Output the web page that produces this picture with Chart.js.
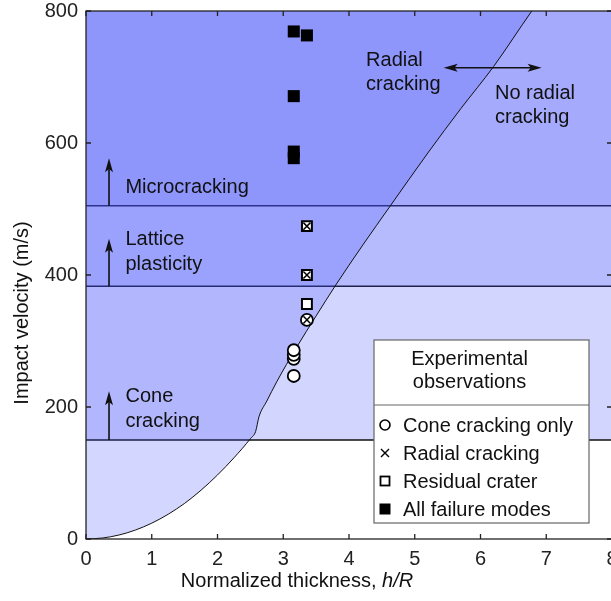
<!DOCTYPE html>
<html>
<head>
<meta charset="utf-8">
<script src="https://cdn.jsdelivr.net/npm/chart.js@4/dist/chart.umd.min.js"></script>
<style>
  html, body { margin: 0; padding: 0; overflow: hidden; background: #fff; width: 611px; height: 601px; }
  canvas { display: block; }
</style>
</head>
<body>
<canvas id="chart" width="640" height="601"></canvas>
<script>
// Boundary between radial cracking (above) and no radial cracking (below)
const boundaryH = [0, 0.25, 0.5, 0.75, 1, 1.25, 1.5, 1.75, 2, 2.25, 2.5, 2.58, 2.63, 2.75, 2.9, 3.2, 3.5, 3.8, 4.2, 4.63, 5.2, 5.7, 6.2, 6.78, 7.0];
const boundaryV = [0, 1.5, 6, 13.5, 24, 37.5, 54, 74, 97, 123, 152, 163, 185, 209, 238, 290, 338, 385, 444, 505, 585, 652, 716, 800, 830];

// Velocity thresholds for each damage mechanism
const thresholdV = [150, 383, 505];
const thresholdText = [["Cone", "cracking"], ["Lattice", "plasticity"], ["Microcracking"]];
const thresholdArrowTip = [224, 455, 577];
const thresholdTextBase = [207, 446, 524];

// Experimental observations (h/R, velocity)
const coneOnlyH = [3.16, 3.16, 3.16, 3.16];
const coneOnlyV = [247, 273, 279, 286];
const coneRadialH = [3.36];
const coneRadialV = [332];
const craterH = [3.36];
const craterV = [356];
const craterRadialH = [3.36, 3.36];
const craterRadialV = [400, 474];
const allModesH = [3.16, 3.36, 3.16, 3.16, 3.16];
const allModesV = [769, 763, 671, 587, 577];

const xTicks = [0, 1, 2, 3, 4, 5, 6, 7, 8];
const yTicks = [0, 200, 400, 600, 800];

const legendTitle = ["Experimental", "observations"];
const legendItems = ["Cone cracking only", "Radial cracking", "Residual crater", "All failure modes"];

const FONT = '"Liberation Sans", Arial, sans-serif';
const TINT = (a) => `rgba(70, 82, 250, ${a})`;
const pts = (xs, ys) => xs.map((x, i) => ({ x, y: ys[i] }));

const bandAlpha = [0.243, 0.2, 0.15];

const datasets = [
  { data: pts(coneOnlyH, coneOnlyV), showLine: false, pointStyle: 'circle', pointRadius: 6,
    pointBackgroundColor: '#fff', pointBorderColor: '#000', pointBorderWidth: 1.8, order: 1 },
  { data: pts(coneRadialH, coneRadialV), showLine: false, pointStyle: 'circle', pointRadius: 6,
    pointBackgroundColor: '#fff', pointBorderColor: '#000', pointBorderWidth: 1.8, order: 1 },
  { data: pts(coneRadialH, coneRadialV), showLine: false, pointStyle: 'crossRot', pointRadius: 5,
    pointBorderColor: '#000', pointBorderWidth: 1.5, order: 0 },
  { data: pts(craterH, craterV), showLine: false, pointStyle: 'rect', pointRadius: 7,
    pointBackgroundColor: '#fff', pointBorderColor: '#000', pointBorderWidth: 2, order: 1 },
  { data: pts(craterRadialH, craterRadialV), showLine: false, pointStyle: 'rect', pointRadius: 7,
    pointBackgroundColor: '#fff', pointBorderColor: '#000', pointBorderWidth: 2, order: 1 },
  { data: pts(craterRadialH, craterRadialV), showLine: false, pointStyle: 'crossRot', pointRadius: 5,
    pointBorderColor: '#000', pointBorderWidth: 1.5, order: 0 },
  { data: pts(allModesH, allModesV), showLine: false, pointStyle: 'rect', pointRadius: 8.5,
    pointBackgroundColor: '#000', pointBorderColor: '#000', pointBorderWidth: 0, order: 1 },
  { data: pts(boundaryH, boundaryV), showLine: true, fill: 'end', backgroundColor: TINT(0.235),
    borderColor: '#111', borderWidth: 1, pointRadius: 0, cubicInterpolationMode: 'monotone', order: 5 },
];
thresholdV.forEach((v, i) => {
  datasets.push({ data: [{ x: 0, y: v }, { x: 8, y: v }], showLine: true, fill: 'end',
    backgroundColor: TINT(bandAlpha[i]), borderColor: '#111', borderWidth: 1.4, pointRadius: 0, order: 6 });
});

function arrowHead(ctx, x, y, dx, dy) {
  // filled triangular head pointing along (dx, dy)
  const len = 14, half = 4;
  const px = -dy, py = dx;
  ctx.beginPath();
  ctx.moveTo(x, y);
  ctx.lineTo(x - dx * len + px * half, y - dy * len + py * half);
  ctx.lineTo(x - dx * len * 0.78, y - dy * len * 0.78);
  ctx.lineTo(x - dx * len - px * half, y - dy * len - py * half);
  ctx.closePath();
  ctx.fill();
}

const decorations = {
  id: 'decorations',
  afterDatasetsDraw(chart) {
    const { ctx, chartArea: a, scales: { x, y } } = chart;
    ctx.save();
    // frame with inward ticks on all four sides
    ctx.strokeStyle = '#222';
    ctx.lineWidth = 1.3;
    ctx.strokeRect(a.left, a.top, a.right - a.left, a.bottom - a.top);
    ctx.beginPath();
    xTicks.forEach(t => {
      const px = x.getPixelForValue(t);
      ctx.moveTo(px, a.bottom); ctx.lineTo(px, a.bottom - 5);
      ctx.moveTo(px, a.top); ctx.lineTo(px, a.top + 5);
    });
    yTicks.forEach(t => {
      const py = y.getPixelForValue(t);
      ctx.moveTo(a.left, py); ctx.lineTo(a.left + 5, py);
      ctx.moveTo(a.right, py); ctx.lineTo(a.right - 5, py);
    });
    ctx.stroke();

    ctx.fillStyle = '#111';
    ctx.strokeStyle = '#111';
    ctx.font = `20px ${FONT}`;
    ctx.textBaseline = 'alphabetic';
    ctx.textAlign = 'left';

    // threshold arrows and labels
    const ax = x.getPixelForValue(0.35);
    thresholdV.forEach((v, i) => {
      const y0 = y.getPixelForValue(v), y1 = y.getPixelForValue(thresholdArrowTip[i]);
      ctx.lineWidth = 1.6;
      ctx.beginPath(); ctx.moveTo(ax, y0); ctx.lineTo(ax, y1 + 8); ctx.stroke();
      arrowHead(ctx, ax, y1, 0, -1);
      const tx = x.getPixelForValue(0.6);
      const by = y.getPixelForValue(thresholdTextBase[i]);
      thresholdText[i].forEach((line, j) => ctx.fillText(line, tx, by + j * 25));
    });

    // radial / no radial double arrow
    const dy = y.getPixelForValue(714);
    const dx0 = x.getPixelForValue(5.44), dx1 = x.getPixelForValue(6.93);
    ctx.lineWidth = 1.6;
    ctx.beginPath(); ctx.moveTo(dx0 + 8, dy); ctx.lineTo(dx1 - 8, dy); ctx.stroke();
    arrowHead(ctx, dx0, dy, -1, 0);
    arrowHead(ctx, dx1, dy, 1, 0);
    const rb = y.getPixelForValue(717), nb = y.getPixelForValue(667);
    ctx.fillText('Radial', x.getPixelForValue(4.26), rb);
    ctx.fillText('cracking', x.getPixelForValue(4.26), rb + 24);
    ctx.fillText('No radial', x.getPixelForValue(6.22), nb);
    ctx.fillText('cracking', x.getPixelForValue(6.22), nb + 24);

    // legend box
    const L = a.left + 288, R = a.left + 503, T = a.top + 329, B = a.top + 512, D = a.top + 394;
    ctx.fillStyle = '#fff';
    ctx.fillRect(L, T, R - L, B - T);
    ctx.strokeStyle = '#666';
    ctx.lineWidth = 1.2;
    ctx.strokeRect(L, T, R - L, B - T);
    ctx.beginPath(); ctx.moveTo(L, D); ctx.lineTo(R, D); ctx.stroke();
    ctx.fillStyle = '#111';
    ctx.textAlign = 'center';
    legendTitle.forEach((t, i) => ctx.fillText(t, (L + R) / 2 - 12, T + 25 + i * 23));
    ctx.textAlign = 'left';
    const mx = L + 11, tx = L + 29;
    legendItems.forEach((t, i) => {
      const cy = T + 85 + i * 28;
      ctx.fillStyle = '#111';
      ctx.fillText(t, tx, cy + 7);
      ctx.strokeStyle = '#000';
      ctx.fillStyle = '#000';
      ctx.lineWidth = 1.6;
      if (i === 0) {
        ctx.beginPath(); ctx.arc(mx, cy, 5, 0, Math.PI * 2); ctx.stroke();
      } else if (i === 1) {
        ctx.lineWidth = 1.4;
        ctx.beginPath();
        ctx.moveTo(mx - 4, cy - 4); ctx.lineTo(mx + 4, cy + 4);
        ctx.moveTo(mx + 4, cy - 4); ctx.lineTo(mx - 4, cy + 4);
        ctx.stroke();
      } else if (i === 2) {
        ctx.lineWidth = 1.8;
        ctx.strokeRect(mx - 4.5, cy - 4.5, 9, 9);
      } else {
        ctx.fillRect(mx - 5.5, cy - 5.5, 11, 11);
      }
    });

    // axis titles
    ctx.fillStyle = '#111';
    ctx.textBaseline = 'middle';
    ctx.textAlign = 'left';
    ctx.font = `20px ${FONT}`;
    const t1 = 'Normalized thickness, ';
    const w1 = ctx.measureText(t1).width;
    ctx.font = `italic 20px ${FONT}`;
    const w2 = ctx.measureText('h/R').width;
    const start = 297 - (w1 + w2) / 2;
    ctx.font = `20px ${FONT}`;
    ctx.fillText(t1, start, 581);
    ctx.font = `italic 20px ${FONT}`;
    ctx.fillText('h/R', start + w1, 581);
    ctx.font = `20px ${FONT}`;
    ctx.translate(22, 313);
    ctx.rotate(-Math.PI / 2);
    ctx.textAlign = 'center';
    ctx.fillText('Impact velocity (m/s)', 0, 0);
    ctx.restore();
  }
};

new Chart(document.getElementById('chart'), {
  type: 'line',
  data: { datasets },
  options: {
    responsive: false,
    animation: false,
    events: [],
    layout: { padding: { left: 0, top: 11, right: 28, bottom: 0 } },
    plugins: { legend: { display: false }, tooltip: { enabled: false } },
    scales: {
      x: {
        type: 'linear', min: 0, max: 8,
        afterBuildTicks: (s) => { s.ticks = xTicks.map(v => ({ value: v })); },
        afterFit: (s) => { s.height = 62; s.paddingLeft = 0; s.paddingRight = 0; },
        grid: { display: false, drawTicks: false }, border: { display: false },
        ticks: { padding: 8, color: '#222', font: { family: FONT, size: 20 }, maxRotation: 0 }
      },
      y: {
        type: 'linear', min: 0, max: 800,
        afterBuildTicks: (s) => { s.ticks = yTicks.map(v => ({ value: v })); },
        afterFit: (s) => { s.width = 86; s.paddingTop = 0; s.paddingBottom = 0; },
        grid: { display: false, drawTicks: false }, border: { display: false },
        ticks: { padding: 8, color: '#222', font: { family: FONT, size: 20 } }
      }
    }
  },
  plugins: [decorations]
});
</script>
</body>
</html>
